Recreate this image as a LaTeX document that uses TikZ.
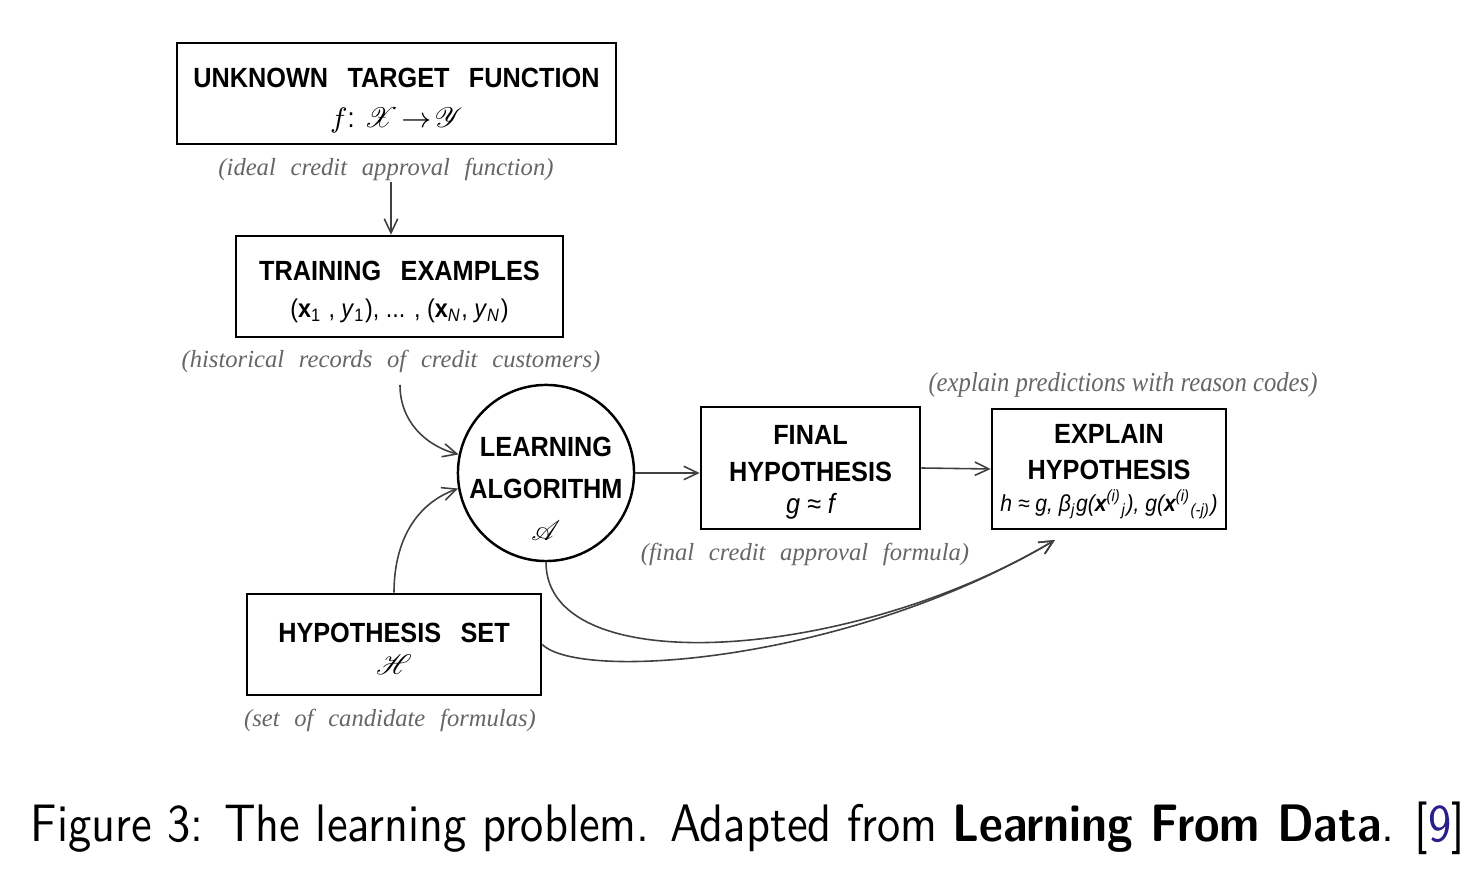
\documentclass[tikz,border=0pt]{standalone}
\usepackage{fontspec}
\usepackage{mathrsfs}
\usetikzlibrary{arrows.meta}
\newfontfamily\boxfont[FakeStretch=0.91]{Liberation Sans}
\newfontfamily\notefont[WordSpace=2.4]{Liberation Serif}
\newfontfamily\notefontn[FakeStretch=0.9]{Liberation Serif}
\newfontfamily\capfont{lmsans10-regular.otf}[FakeStretch=0.88,BoldFont=lmsans10-bold.otf]
\newcommand{\wordgap}{\hspace{5.5pt}}
\newcommand{\topstrut}[1]{\rule{0pt}{#1}}
\definecolor{notegray}{gray}{0.4}
\definecolor{citeblue}{RGB}{40,30,140}
\begin{document}
\begin{tikzpicture}[x=0.01cm,y=0.01cm,
  box/.style={draw,line width=0.7pt,inner sep=0pt,align=center,
    font=\fontsize{7.9}{10.5}\selectfont\boxfont\bfseries},
  note/.style={text=notegray,inner sep=0pt,font=\notefont\itshape\fontsize{7}{8.4}\selectfont},
  arr/.style={draw=black!75,line width=0.45pt,-{Straight Barb[length=4pt,width=3.8pt]}}]
\useasboundingbox (0,0) rectangle (1484,882);
% boxes and labels
\node[box,minimum width=4.39cm,minimum height=1.01cm,font=\fontsize{7.9}{11.3}\selectfont\boxfont\bfseries] (target) at (396.5,788.5)
  {\topstrut{9.4pt}UNKNOWN\wordgap TARGET\wordgap FUNCTION\\ {\mdseries$f$: $\mathscr{X}\!\rightarrow\!\mathscr{Y}$}};
\node[note] (ideal) at (386,713) {(ideal credit approval function)};
\node[box,minimum width=3.27cm,minimum height=1.01cm] (train) at (399.5,595.5)
  {\topstrut{8.5pt}TRAINING\wordgap EXAMPLES\\ {\mdseries\fontsize{7.3}{10.5}\selectfont (\textbf{x}\textsubscript{1} , \textit{y}\textsubscript{1}), ... , (\textbf{x}\textsubscript{\textit{N}}, \textit{y}\textsubscript{\textit{N}})}};
\node[note] (records) at (391,521) {(historical records of credit customers)};
\node[draw,circle,line width=0.7pt,minimum size=1.76cm,inner sep=0pt] (alg) at (546,409) {};
\node[align=center,font=\fontsize{7.9}{11.9}\selectfont\boxfont\bfseries] (algtext) at (546,393)
  {LEARNING\\ALGORITHM\\{\mdseries$\mathscr{A}$}};
\node[box,minimum width=2.19cm,minimum height=1.22cm] (final) at (810.5,414)
  {\topstrut{8pt}FINAL\\HYPOTHESIS\\[-1.4pt]{\mdseries\itshape g ≈ f}};
\node[note] (formula) at (805,328) {(final credit approval formula)};
\node[box,minimum width=2.34cm,minimum height=1.20cm] (explain) at (1109,413)
  {\topstrut{6.8pt}EXPLAIN\\HYPOTHESIS\\[-1.4pt]{\mdseries\itshape\fontsize{6.6}{9}\selectfont h ≈ g, β\textsubscript{j}g(\textbf{x}\textsuperscript{(i)}\textsubscript{j}), g(\textbf{x}\textsuperscript{(i)}\textsubscript{(-j)})}};
\node[note,font=\notefontn\itshape\fontsize{7.8}{9}\selectfont] (reason) at (1123,497)
  {(explain predictions with reason codes)};
\node[box,minimum width=2.94cm,minimum height=1.01cm] (hset) at (394,237.5)
  {\topstrut{8pt}HYPOTHESIS\wordgap SET\\[-1.5pt]{\mdseries$\mathscr{H}$}};
\node[note] (candidates) at (390,162) {(set of candidate formulas)};
% connectors
\coordinate (tgtout) at (391,700);
\coordinate (trainout) at (400,497);
\coordinate (explin) at (1055,342);
\draw[arr] (tgtout) -- (tgtout |- train.north);
\draw[arr] (trainout) to[out=-90,in=165] (alg.168);
\draw[arr] (hset.north) to[out=90,in=200] (alg.190);
\draw[arr] (alg.east) -- (alg.east -| final.west);
\draw[arr] (final.east) -- (explain.west);
\draw[arr] (alg.south) .. controls (546,200) and (850,220) .. (explin);
\draw[arr] (hset.east) .. controls (580,200) and (850,220) .. (explin);
% caption
\node[font=\capfont\fontsize{15}{18}\selectfont] (caption) at (748,54)
  {Figure 3: The learning problem. Adapted from \textbf{Learning From Data}. [{\color{citeblue}9}]};
\end{tikzpicture}
\end{document}
